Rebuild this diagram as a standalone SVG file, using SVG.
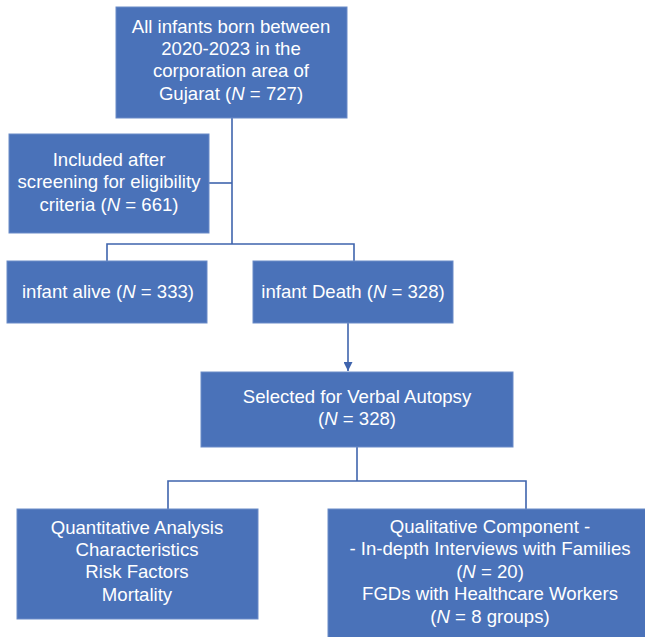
<svg xmlns="http://www.w3.org/2000/svg" width="645" height="637" viewBox="0 0 645 637">
<defs>
<style>
.box{fill:#4a72b9;stroke:#6a8bc8;stroke-width:1}
.t{font-family:"Liberation Sans",Arial,sans-serif;font-size:18.6px;fill:#ffffff;text-anchor:middle}
.i{font-style:italic}
.c{fill:none;stroke:#3f64ad;stroke-width:1.6}
</style>
<marker id="arr" viewBox="0 0 10 10" refX="10" refY="5" markerWidth="9" markerHeight="9" markerUnits="userSpaceOnUse" orient="auto">
<path d="M0,0 L10,5 L0,10 Z" fill="#3f64ad"/>
</marker>
</defs>
<rect width="645" height="637" fill="#ffffff"/>
<g id="connectors">
<path class="c" d="M232,118 V244"/>
<path class="c" d="M209,183 H232"/>
<path class="c" d="M107,261 V244 H354 V261"/>
<path class="c" d="M348,323 V371" marker-end="url(#arr)"/>
<path class="c" d="M357,447 V481"/>
<path class="c" d="M168,509 V481 H526 V509"/>
</g>
<g id="n1">
<rect class="box" x="116" y="7" width="231" height="111"/>
<text class="t" x="231" y="33">All infants born between</text>
<text class="t" x="231" y="55">2020-2023 in the</text>
<text class="t" x="231" y="77">corporation area of</text>
<text class="t" x="231" y="100">Gujarat (<tspan class="i">N</tspan> = 727)</text>
</g>
<g id="n2">
<rect class="box" x="9" y="134" width="200" height="99"/>
<text class="t" x="109" y="166">Included after</text>
<text class="t" x="109" y="188">screening for eligibility</text>
<text class="t" x="109" y="211">criteria (<tspan class="i">N</tspan> = 661)</text>
</g>
<g id="n3">
<rect class="box" x="7" y="261" width="200" height="62"/>
<text class="t" x="108" y="298">infant alive (<tspan class="i">N</tspan> = 333)</text>
</g>
<g id="n4">
<rect class="box" x="253" y="261" width="200" height="62"/>
<text class="t" x="353" y="298">infant Death (<tspan class="i">N</tspan> = 328)</text>
</g>
<g id="n5">
<rect class="box" x="201" y="372" width="312" height="75"/>
<text class="t" x="357" y="403">Selected for Verbal Autopsy</text>
<text class="t" x="357" y="425">(<tspan class="i">N</tspan> = 328)</text>
</g>
<g id="n6">
<rect class="box" x="17" y="509" width="241" height="110"/>
<text class="t" x="137" y="534">Quantitative Analysis</text>
<text class="t" x="137" y="556">Characteristics</text>
<text class="t" x="137" y="578">Risk Factors</text>
<text class="t" x="137" y="601">Mortality</text>
</g>
<g id="n7">
<rect class="box" x="328" y="509" width="330" height="140"/>
<text class="t" x="490" y="533">Qualitative Component -</text>
<text class="t" x="490" y="555">- In-depth Interviews with Families</text>
<text class="t" x="490" y="578">(<tspan class="i">N</tspan> = 20)</text>
<text class="t" x="490" y="600">FGDs with Healthcare Workers</text>
<text class="t" x="490" y="623">(<tspan class="i">N</tspan> = 8 groups)</text>
</g>
</svg>
